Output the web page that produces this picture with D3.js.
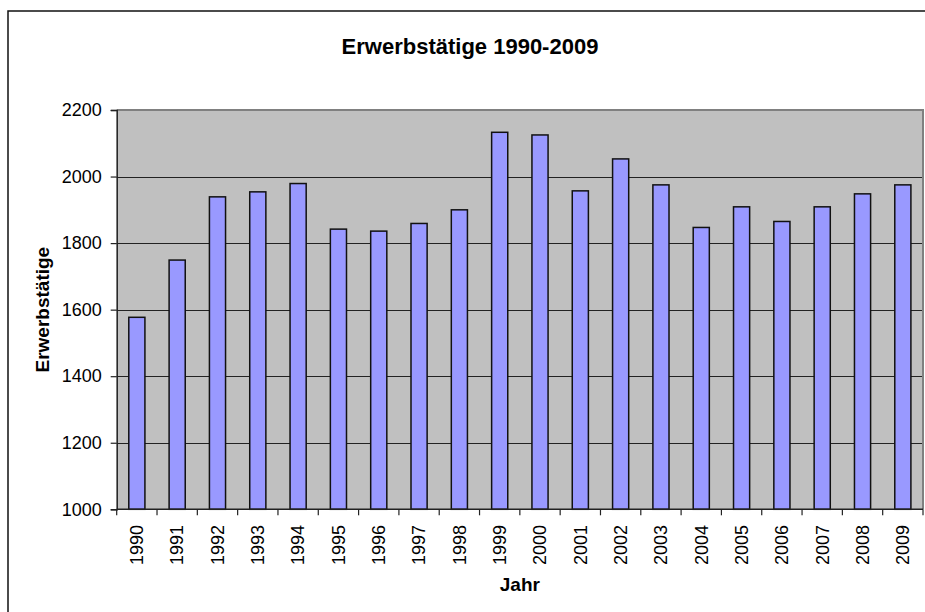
<!DOCTYPE html>
<html>
<head>
<meta charset="utf-8">
<script src="https://cdn.jsdelivr.net/npm/d3@7"></script>
<style>
  body { margin: 0; background: #fff; }
  svg { display: block; font-family: Arial, "Liberation Sans", sans-serif; }
</style>
</head>
<body>
<svg id="chart" width="925" height="612"></svg>
<script>
// data
const years = ['1990', '1991', '1992', '1993', '1994', '1995', '1996', '1997', '1998', '1999',
  '2000', '2001', '2002', '2003', '2004', '2005', '2006', '2007', '2008', '2009'];
const employed = [1577, 1749, 1939, 1954, 1979, 1842, 1836, 1859, 1900, 2133,
  2125, 1957, 2053, 1975, 1847, 1909, 1865, 1909, 1948, 1975];
const yTicks = [1000, 1200, 1400, 1600, 1800, 2000, 2200];

const svg = d3.select('#chart');
const plot = { left: 116.7, right: 923, top: 110, bottom: 509.3 };

// outer chart border (right and bottom run past the picture)
svg.append('rect')
  .attr('x', 8).attr('y', 11)
  .attr('width', 940).attr('height', 620)
  .attr('fill', '#fff')
  .attr('stroke', '#111').attr('stroke-width', 1.5);

const x = d3.scaleBand()
  .domain(years)
  .range([plot.left, plot.right])
  .paddingInner(0.6)
  .paddingOuter(0.3);

const y = d3.scaleLinear()
  .domain([1000, 2200])
  .range([plot.bottom, plot.top]);

// plot area
svg.append('rect')
  .attr('x', plot.left).attr('y', plot.top)
  .attr('width', plot.right - plot.left).attr('height', plot.bottom - plot.top)
  .attr('fill', '#c0c0c0');

// gridlines
svg.append('g')
  .selectAll('line')
  .data(yTicks.filter(d => d > 1000 && d < 2200))
  .enter()
  .append('line')
  .attr('x1', plot.left).attr('x2', plot.right)
  .attr('y1', d => Math.round(y(d)) + 0.5).attr('y2', d => Math.round(y(d)) + 0.5)
  .attr('stroke', '#222').attr('stroke-width', 1);

// top + right border of plot area
svg.append('path')
  .attr('d', `M${plot.left},${plot.top}H${plot.right}V${plot.bottom}`)
  .attr('fill', 'none')
  .attr('stroke', '#808080').attr('stroke-width', 2);

// bars
svg.append('g')
  .selectAll('rect')
  .data(employed)
  .enter()
  .append('rect')
  .attr('x', (d, i) => x(years[i]))
  .attr('y', d => y(d))
  .attr('width', x.bandwidth())
  .attr('height', d => y(1000) - y(d))
  .attr('fill', '#9999ff')
  .attr('stroke', '#111')
  .attr('stroke-width', 1.5);

// y axis
const yAxis = svg.append('g')
  .attr('transform', `translate(${plot.left},0)`)
  .call(d3.axisLeft(y).tickValues(yTicks).tickSize(6).tickPadding(9).tickFormat(d3.format('d')));
yAxis.select('.domain').attr('stroke', '#222').attr('stroke-width', 1.5);
yAxis.selectAll('.tick line').attr('stroke', '#222').attr('stroke-width', 1.2);
yAxis.selectAll('.tick text')
  .attr('font-size', 18)
  .attr('fill', '#000')
  .attr('font-family', 'Arial, "Liberation Sans", sans-serif');

// x axis line and ticks at category boundaries
const step = x.step();
const bounds = d3.range(years.length + 1).map(i => plot.left + i * step);
svg.append('line')
  .attr('x1', plot.left).attr('x2', plot.right)
  .attr('y1', plot.bottom).attr('y2', plot.bottom)
  .attr('stroke', '#222').attr('stroke-width', 1.5);
svg.append('g')
  .selectAll('line')
  .data(bounds)
  .enter()
  .append('line')
  .attr('x1', d => d).attr('x2', d => d)
  .attr('y1', plot.bottom).attr('y2', plot.bottom + 6)
  .attr('stroke', '#222').attr('stroke-width', 1.2);

// x tick labels, rotated
svg.append('g')
  .selectAll('text')
  .data(years)
  .enter()
  .append('text')
  .attr('transform', d => `translate(${x(d) + x.bandwidth() / 2},525) rotate(-90)`)
  .attr('text-anchor', 'end')
  .attr('dy', '0.35em')
  .attr('font-size', 18)
  .text(d => d);

// titles
svg.append('text')
  .attr('x', 470).attr('y', 54)
  .attr('text-anchor', 'middle')
  .attr('font-size', 22).attr('font-weight', 'bold')
  .text('Erwerbstätige 1990-2009');

svg.append('text')
  .attr('x', (plot.left + plot.right) / 2).attr('y', 591)
  .attr('text-anchor', 'middle')
  .attr('font-size', 19).attr('font-weight', 'bold')
  .text('Jahr');

svg.append('text')
  .attr('transform', `translate(49,${(plot.top + plot.bottom) / 2}) rotate(-90)`)
  .attr('text-anchor', 'middle')
  .attr('font-size', 19).attr('font-weight', 'bold')
  .text('Erwerbstätige');
</script>
</body>
</html>
